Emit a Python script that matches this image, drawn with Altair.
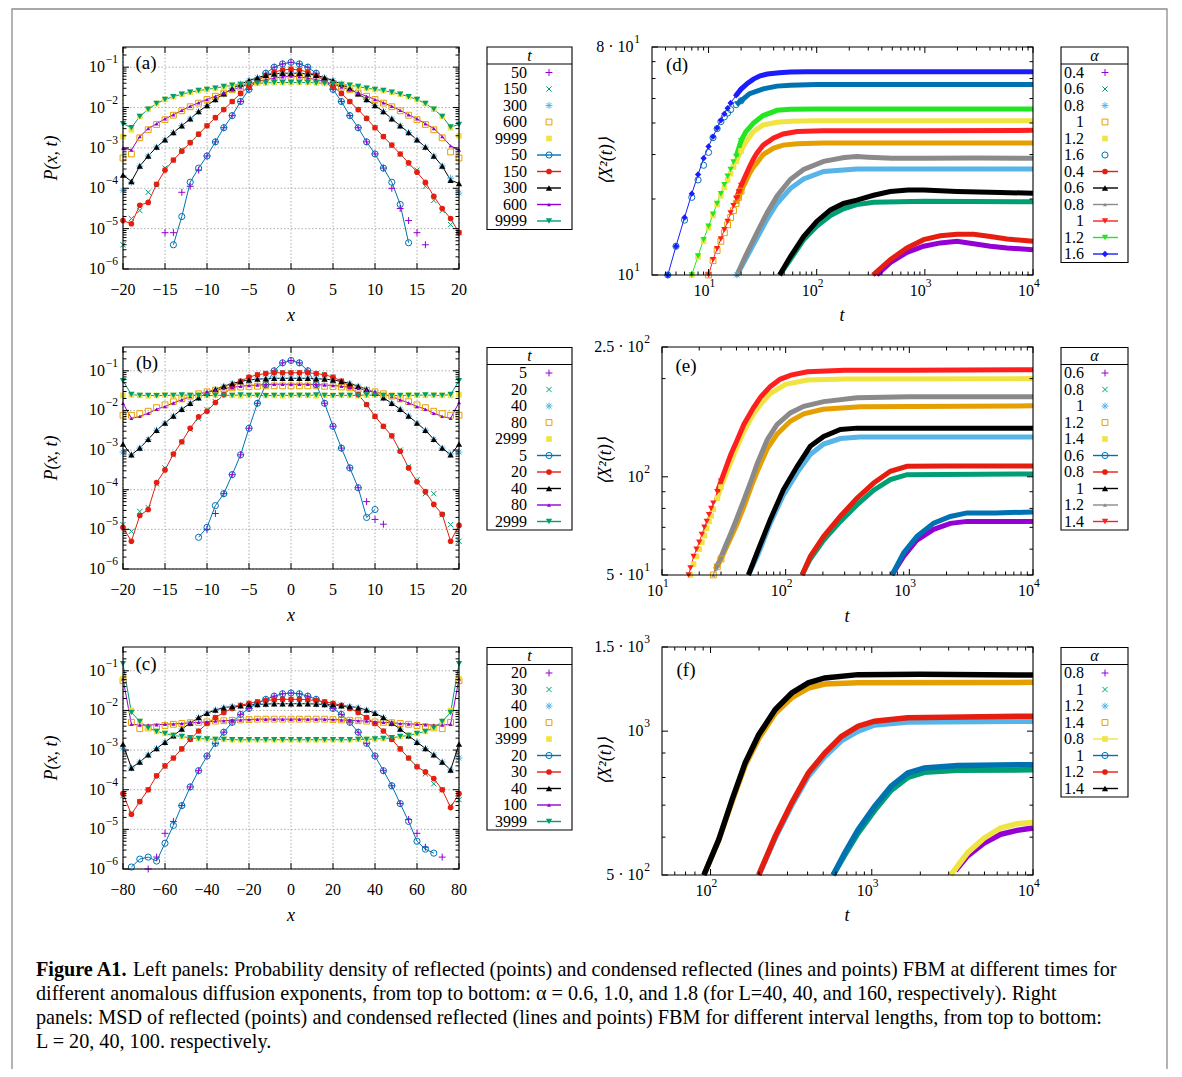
import altair as alt
import pandas as pd

N = None
W, H, M = 1166, 1061, 8
SERIF = "Liberation Serif"

# ---------------------------------------------------------------- colours / markers
PURPLE, GREEN, LBLUE, ORANGE, YELLOW = "#9400d3", "#009e73", "#56b4e9", "#e69f00", "#f0e442"
BLUE, RED, BLACK, GRAY = "#0072b2", "#e51e10", "#000000", "#8a8a8a"
BRED, LIME, DBLUE = "#ff1f1f", "#22e622", "#1c1cff"

PLUS = "M-1,0L1,0M0,-1L0,1"
CROSS = "M-0.8,-0.8L0.8,0.8M-0.8,0.8L0.8,-0.8"
STAR = "M-1,0L1,0M0,-1L0,1M-0.72,-0.72L0.72,0.72M-0.72,0.72L0.72,-0.72"
MK = {
    "+": (PLUS, False, 48), "x": (CROSS, False, 44), "*": (STAR, False, 48),
    "sq": ("square", False, 34), "SQ": ("square", True, 32),
    "o": ("circle", False, 38), "O": ("circle", True, 32),
    "T": ("triangle-up", True, 40), "t": ("triangle-up", True, 16),
    "V": ("triangle-down", True, 40), "D": ("diamond", True, 40),
}

# ---------------------------------------------------------------- panel (a): log10 P(x,t), alpha=0.6, L=40
XA = list(range(-20, 21))
A_P50 = [N,N,N,N,N, -5.1,-5.1,-4.1,-3.95,-3.55, -3.2,-2.85,-2.5,-2.2,-1.85, -1.55,-1.33,-1.15,-1.0,-0.92, -0.88, -0.92,-1.0,-1.15,-1.33,-1.55, -1.85,-2.2,-2.5,-2.85,-3.15, -3.5,-4.0,-4.5,-4.8,-5.1, -5.4,N,N,N,N]
A_C50 = [N,N,N,N,N, N,-5.4,-4.7,-3.85,-3.5, -3.2,-2.85,-2.5,-2.2,-1.85, -1.55,-1.33,-1.15,-1.0,-0.92, -0.88, -0.92,-1.0,-1.15,-1.33,-1.55, -1.85,-2.2,-2.5,-2.85,-3.15, -3.5,-3.85,-4.4,-5.35,N, N,N,N,N,N]
A_P150 = [-5.4,-4.75,-4.55,-4.1,-3.9, -3.5,-3.3,-3.05,-2.87,-2.66, -2.45,-2.25,-2.05,-1.85,-1.65, -1.47,-1.33,-1.21,-1.12,-1.07, -1.05, -1.07,-1.12,-1.21,-1.33,-1.47, -1.65,-1.85,-2.05,-2.27,-2.5, -2.72,-2.93,-3.15,-3.4,-3.55, -3.95,-4.3,-4.55,-4.9,-5.1]
A_C150 = [-4.8,-4.88,-4.42,-4.35,-3.9, -3.55,-3.3,-3.08,-2.87,-2.66, -2.45,-2.25,-2.05,-1.85,-1.65, -1.47,-1.33,-1.21,-1.12,-1.07, -1.05, -1.07,-1.12,-1.21,-1.33,-1.47, -1.65,-1.85,-2.05,-2.27,-2.5, -2.72,-2.93,-3.15,-3.37,-3.6, -3.85,-4.2,-4.5,-4.75,-5.1]
A_P300 = [-4.05,-3.85,-3.45,-3.2,-2.98, -2.8,-2.62,-2.45,-2.28,-2.1, -1.95,-1.8,-1.66,-1.53,-1.42, -1.33,-1.26,-1.2,-1.17,-1.15, -1.15, -1.15,-1.17,-1.2,-1.26,-1.33, -1.42,-1.53,-1.66,-1.8,-1.95, -2.1,-2.28,-2.45,-2.62,-2.8, -2.98,-3.2,-3.45,-3.75,-4.12]
A_C300 = [-3.67,-3.83,-3.45,-3.2,-2.98, -2.8,-2.62,-2.45,-2.28,-2.1, -1.95,-1.8,-1.66,-1.53,-1.42, -1.33,-1.26,-1.2,-1.17,-1.15, -1.15, -1.15,-1.17,-1.2,-1.26,-1.33, -1.42,-1.53,-1.66,-1.8,-1.95, -2.1,-2.28,-2.45,-2.62,-2.8, -2.98,-3.2,-3.45,-3.8,-3.88]
A_P600 = [-3.25,-3.15,-2.75,-2.55,-2.42, -2.3,-2.19,-2.08,-1.98,-1.89, -1.8,-1.72,-1.64,-1.56,-1.49, -1.42,-1.36,-1.31,-1.27,-1.24, -1.23, -1.24,-1.27,-1.31,-1.36,-1.42, -1.49,-1.56,-1.64,-1.72,-1.8, -1.89,-1.98,-2.08,-2.19,-2.3, -2.42,-2.55,-2.75,-3.1,-3.25]
A_C600 = [-3.0,-3.05,-2.72,-2.52,-2.4, -2.28,-2.18,-2.07,-1.97,-1.88, -1.8,-1.72,-1.64,-1.56,-1.49, -1.42,-1.36,-1.31,-1.27,-1.24, -1.22, -1.24,-1.27,-1.31,-1.36,-1.42, -1.49,-1.56,-1.64,-1.72,-1.8, -1.88,-1.97,-2.07,-2.18,-2.28, -2.4,-2.52,-2.72,-2.95,-3.05]
A_P9999 = [-2.72,-2.55,-2.22,-2.04,-1.9, -1.8,-1.73,-1.67,-1.62,-1.58, -1.55,-1.52,-1.48,-1.45,-1.43, -1.41,-1.4,-1.39,-1.38,-1.38, -1.38, -1.38,-1.38,-1.39,-1.4,-1.41, -1.43,-1.45,-1.48,-1.52,-1.55, -1.58,-1.62,-1.67,-1.73,-1.8, -1.9,-2.04,-2.22,-2.5,-2.7]
A_C9999 = [-2.4,-2.5,-2.22,-2.04,-1.9, -1.8,-1.73,-1.67,-1.62,-1.58, -1.55,-1.52,-1.48,-1.45,-1.43, -1.41,-1.4,-1.39,-1.38,-1.38, -1.38, -1.38,-1.38,-1.39,-1.4,-1.41, -1.43,-1.45,-1.48,-1.52,-1.55, -1.58,-1.62,-1.67,-1.73,-1.8, -1.9,-2.04,-2.22,-2.48,-2.42]

# ---------------------------------------------------------------- panel (b): alpha=1.0, L=40
B_P5 = [N,N,N,N,N, N,N,N,N,N, -5.0,-4.6,-4.1,-3.62,-3.12, -2.45,-1.82,-1.35,-1.0,-0.8, -0.74, -0.8,-1.0,-1.35,-1.82,-2.4, -2.95,-3.45,-3.95,-4.3,-4.75, -4.87,N,N,N,N, N,N,N,N,N]
B_C5 = [N,N,N,N,N, N,N,N,N,-5.2, -4.95,-4.4,-4.1,-3.62,-3.12, -2.45,-1.82,-1.35,-1.0,-0.8, -0.74, -0.8,-1.0,-1.35,-1.82,-2.4, -2.95,-3.45,-3.95,-4.7,-4.5, N,N,N,N,N, N,N,N,N,N]
B_P20 = [-4.88,-5.05,-4.55,-4.45,-3.85, -3.45,-3.12,-2.8,-2.48,-2.2, -1.98,-1.78,-1.58,-1.41,-1.27, -1.17,-1.1,-1.07,-1.05,-1.05, -1.05, -1.05,-1.05,-1.07,-1.1,-1.16, -1.26,-1.4,-1.6,-1.85,-2.15, -2.4,-2.64,-3.0,-3.42,-3.75, -4.1,-4.1,-4.63,-4.88,-5.3]
B_C20 = [-4.95,-5.3,-4.65,-4.5,-3.82, -3.5,-3.1,-2.79,-2.45,-2.16, -2.02,-1.8,-1.6,-1.4,-1.26, -1.16,-1.1,-1.07,-1.05,-1.05, -1.05, -1.05,-1.05,-1.07,-1.1,-1.16, -1.26,-1.4,-1.6,-1.85,-2.15, -2.4,-2.64,-3.03,-3.45,-3.8, -4.05,-4.37,-4.62,-5.3,-4.9]
B_P40 = [-3.05,-3.12,-2.95,-2.73,-2.5, -2.32,-2.14,-1.97,-1.82,-1.68, -1.56,-1.47,-1.39,-1.32,-1.27, -1.23,-1.21,-1.2,-1.19,-1.19, -1.19, -1.19,-1.19,-1.2,-1.21,-1.23, -1.27,-1.32,-1.39,-1.47,-1.56, -1.68,-1.82,-1.97,-2.14,-2.32, -2.5,-2.73,-2.95,-3.1,-3.05]
B_C40 = [-2.85,-3.12,-2.95,-2.73,-2.5, -2.32,-2.14,-1.97,-1.82,-1.68, -1.56,-1.47,-1.39,-1.32,-1.27, -1.23,-1.21,-1.2,-1.19,-1.19, -1.19, -1.19,-1.19,-1.2,-1.21,-1.23, -1.27,-1.32,-1.39,-1.47,-1.56, -1.68,-1.82,-1.97,-2.14,-2.32, -2.5,-2.73,-2.95,-3.12,-2.85]
B_P80 = [-2.12,-2.12,-2.08,-2.02,-1.93, -1.86,-1.78,-1.71,-1.64,-1.58, -1.53,-1.49,-1.46,-1.43,-1.41, -1.4,-1.39,-1.38,-1.38,-1.38, -1.38, -1.38,-1.38,-1.38,-1.39,-1.4, -1.41,-1.43,-1.46,-1.49,-1.53, -1.58,-1.64,-1.71,-1.78,-1.86, -1.93,-2.02,-2.08,-2.12,-2.12]
B_C80 = [-1.82,-2.2,-2.15,-2.07,-1.97, -1.9,-1.81,-1.73,-1.65,-1.59, -1.53,-1.49,-1.45,-1.42,-1.39, -1.37,-1.36,-1.35,-1.34,-1.34, -1.34, -1.34,-1.34,-1.35,-1.36,-1.37, -1.39,-1.42,-1.45,-1.49,-1.53, -1.59,-1.65,-1.73,-1.81,-1.9, -1.97,-2.07,-2.15,-2.2,-1.8]
B_P2999 = [-1.62,-1.61,-1.62,-1.63,-1.62, -1.61,-1.62,-1.62,-1.63,-1.61, -1.62,-1.62,-1.61,-1.62,-1.63, -1.62,-1.61,-1.62,-1.62,-1.63, -1.62, -1.61,-1.62,-1.63,-1.62,-1.62, -1.61,-1.62,-1.63,-1.62,-1.61, -1.62,-1.62,-1.63,-1.61,-1.62, -1.62,-1.61,-1.62,-1.62,-1.6]
B_C2999 = [-1.25,-1.6,-1.62,-1.62,-1.63, -1.62,-1.62,-1.61,-1.62,-1.62, -1.63,-1.62,-1.62,-1.62,-1.61, -1.62,-1.62,-1.63,-1.62,-1.62, -1.62, -1.62,-1.62,-1.61,-1.62,-1.63, -1.62,-1.62,-1.62,-1.61,-1.62, -1.62,-1.63,-1.62,-1.62,-1.62, -1.61,-1.62,-1.62,-1.6,-1.25]

# ---------------------------------------------------------------- panel (c): alpha=1.8, L=160
XC = list(range(-80, 81, 4))
C_P20 = [N,N,N,-6.0,-5.7, -5.1,-4.8,-4.4,-3.93,-3.52, -3.15,-2.83,-2.55,-2.3,-2.1, -1.95,-1.82,-1.72,-1.64,-1.58, -1.56, -1.58,-1.64,-1.72,-1.82,-1.95, -2.1,-2.3,-2.55,-2.83,-3.15, -3.52,-3.9,-4.35,-4.75,-5.1, -5.45,N,-5.7,N,N]
C_C20 = [N,-5.95,-5.75,-5.7,-5.8, -5.35,-4.9,-4.4,-3.93,-3.52, -3.15,-2.83,-2.55,-2.3,-2.1, -1.95,-1.82,-1.72,-1.64,-1.58, -1.56, -1.58,-1.64,-1.72,-1.82,-1.95, -2.1,-2.3,-2.55,-2.83,-3.15, -3.52,-3.9,-4.35,-4.8,-5.3, -5.5,-5.6,N,N,N]
C_P30 = [-4.15,-4.6,-4.3,-4.0,-3.65, -3.4,-3.2,-2.97,-2.73,-2.52, -2.33,-2.18,-2.05,-1.95,-1.87, -1.82,-1.78,-1.75,-1.73,-1.72, -1.72, -1.72,-1.73,-1.75,-1.78,-1.82, -1.87,-1.95,-2.05,-2.18,-2.33, -2.52,-2.73,-2.97,-3.2,-3.42, -3.6,-3.85,-4.0,-4.4,-4.25]
C_C30 = [-4.1,-4.62,-4.3,-4.0,-3.65, -3.4,-3.2,-2.97,-2.73,-2.52, -2.33,-2.18,-2.05,-1.95,-1.87, -1.82,-1.78,-1.75,-1.73,-1.72, -1.72, -1.72,-1.73,-1.75,-1.78,-1.82, -1.87,-1.95,-2.05,-2.18,-2.33, -2.52,-2.73,-2.97,-3.2,-3.42, -3.55,-3.72,-4.0,-4.45,-4.1]
C_P40 = [-2.95,-3.45,-3.3,-3.12,-2.96, -2.8,-2.64,-2.47,-2.32,-2.18, -2.07,-1.99,-1.93,-1.9,-1.88, -1.86,-1.85,-1.84,-1.83,-1.83, -1.83, -1.83,-1.83,-1.84,-1.85,-1.86, -1.88,-1.9,-1.93,-1.99,-2.07, -2.18,-2.32,-2.47,-2.64,-2.8, -2.96,-3.12,-3.3,-3.5,-3.2]
C_C40 = [-2.85,-3.45,-3.3,-3.12,-2.96, -2.8,-2.64,-2.47,-2.32,-2.18, -2.07,-1.99,-1.93,-1.9,-1.88, -1.86,-1.85,-1.84,-1.83,-1.83, -1.83, -1.83,-1.83,-1.84,-1.85,-1.86, -1.88,-1.9,-1.93,-1.99,-2.07, -2.18,-2.32,-2.47,-2.64,-2.8, -2.96,-3.12,-3.3,-3.5,-2.85]
C_P100 = [-1.25,-2.3,-2.46,-2.44,-2.41, -2.38,-2.35,-2.33,-2.31,-2.3, -2.29,-2.27,-2.26,-2.25,-2.24, -2.23,-2.22,-2.22,-2.22,-2.22, -2.22, -2.22,-2.22,-2.22,-2.22,-2.23, -2.24,-2.25,-2.26,-2.27,-2.29, -2.3,-2.31,-2.33,-2.35,-2.38, -2.41,-2.44,-2.46,-2.3,-1.25]
C_C100 = [-1.2,-2.35,-2.37,-2.37,-2.36, -2.35,-2.34,-2.33,-2.31,-2.3, -2.29,-2.27,-2.26,-2.25,-2.24, -2.23,-2.22,-2.22,-2.22,-2.22, -2.22, -2.22,-2.22,-2.22,-2.22,-2.23, -2.24,-2.25,-2.26,-2.27,-2.29, -2.3,-2.31,-2.33,-2.34,-2.35, -2.36,-2.37,-2.37,-2.35,-1.2]
C_P3999 = [-1.2,-2.0,-2.28,-2.44,-2.53, -2.58,-2.63,-2.66,-2.69,-2.71, -2.72,-2.73,-2.73,-2.74,-2.74, -2.74,-2.74,-2.74,-2.74,-2.74, -2.74, -2.74,-2.74,-2.74,-2.74,-2.74, -2.74,-2.74,-2.73,-2.73,-2.72, -2.71,-2.69,-2.66,-2.63,-2.58, -2.53,-2.44,-2.28,-2.0,-1.2]
C_C3999 = [-0.82,-2.05,-2.28,-2.44,-2.53, -2.58,-2.63,-2.66,-2.69,-2.71, -2.72,-2.73,-2.73,-2.74,-2.74, -2.74,-2.74,-2.74,-2.74,-2.74, -2.74, -2.74,-2.74,-2.74,-2.74,-2.74, -2.74,-2.74,-2.73,-2.73,-2.72, -2.71,-2.69,-2.66,-2.63,-2.58, -2.53,-2.44,-2.28,-2.05,-0.82]

# ---------------------------------------------------------------- panel (d): MSD, L=20
D_T_P04 = [360, 479, 683, 975, 1391, 1983, 2827, 4036, 5754, 10000]
D_Y_P04 = [10, 11.2, 12.3, 13, 13.4, 13.6, 13.3, 13, 12.8, 12.6]
D_T_P06 = [45.4, 57, 75.7, 100, 134, 177, 235, 336, 1000, 10000]
D_Y_P06 = [10, 11.5, 13.8, 15.6, 17.2, 18.3, 19, 19.4, 19.6, 19.5]
D_T_P08 = [18.3, 22.6, 28, 34.7, 42.9, 57, 75.7, 116, 235, 1000, 10000]
D_Y_P08 = [10, 11.8, 14, 16.6, 19.2, 22, 24, 25.7, 26.3, 26.3, 26.3]
D_T_P10 = [10, 11, 12, 13, 14, 15, 16, 17, 18, 19, 20, 21, 22, 24, 26, 28, 32, 40, 49, 66, 116, 1000, 10000]
D_Y_P10 = [10, 11.4, 12.5, 13.6, 14.7, 15.8, 16.9, 18, 19.2, 20.3, 21.5, 22.5, 23.4, 25.3, 26.8, 27.8, 30, 31.8, 32.7, 33.1, 33.3, 33.3, 33.3]
D_T_P12 = [7, 8, 9, 10, 11, 12, 13, 14, 15, 16, 17, 18, 20, 22, 26, 32, 43, 57, 100, 10000]
D_Y_P12 = [10, 11.8, 13.6, 15.4, 17.2, 19, 20.6, 22.2, 23.8, 25.2, 26.8, 28.2, 31, 33.5, 37, 39.3, 40.3, 40.6, 40.8, 40.8]
D_T_P16 = [4.2, 5, 6, 7, 8, 9, 10, 11, 12, 13, 14, 15, 16, 18, 20, 24, 32, 43, 57, 100, 300, 1000, 3000, 10000]
D_Y_P16 = [10, 13, 16.5, 20.3, 23.8, 27.2, 30.6, 35, 38, 40.5, 42.3, 43.8, 45.2, 47.3, 49, 52.3, 54.6, 56, 56.5, 56.8, 56.8, 56.8, 56.8, 56.8]
D_T_C04 = [331, 479, 683, 975, 1391, 1983, 2827, 4036, 5754, 10000]
D_Y_C04 = [10, 11.5, 12.8, 13.8, 14.3, 14.5, 14.5, 14.2, 13.9, 13.6]
D_T_C06 = [45.4, 57, 75.7, 100, 134, 177, 235, 336, 479, 700, 975, 1983, 5000, 10000]
D_Y_C06 = [10, 11.8, 14.2, 16.3, 18.1, 19.2, 19.8, 20.7, 21.4, 21.7, 21.7, 21.4, 21.2, 21.1]
D_T_C08 = [18.3, 22.6, 28, 34.7, 42.9, 57, 75.7, 116, 180, 235, 300, 500, 1000, 3000, 10000]
D_Y_C08 = [10, 12.2, 14.7, 17.6, 20.5, 23.9, 26.2, 28.2, 29.2, 29.5, 29.3, 29.0, 29.0, 29.1, 29.0]
D_T_C10 = [10, 11, 12, 13, 14, 15, 16, 17, 18, 19, 20, 21, 22, 24, 26, 28, 32, 40, 49, 66, 116, 1000, 10000]
D_Y_C10 = [10, 11.5, 12.7, 13.9, 15.1, 16.3, 17.6, 18.8, 20.1, 21.3, 22.6, 23.7, 24.8, 26.9, 28.8, 30.4, 32.7, 34.9, 36.2, 37, 37.3, 37.3, 37.4]
D_T_C12 = [7, 8, 9, 10, 11, 12, 13, 14, 15, 16, 17, 18, 20, 22, 26, 32, 43, 57, 100, 1000, 10000]
D_Y_C12 = [10, 11.9, 13.8, 15.6, 17.4, 19.2, 21, 22.8, 24.6, 26.2, 28, 29.5, 34, 36.8, 40, 42.8, 44.9, 45.3, 45.4, 45.4, 45.4]
D_T_C16 = [4.2, 5, 6, 7, 8, 9, 10, 11, 12, 13, 14, 15, 16, 18, 20, 23, 26, 30, 35, 45, 57, 80, 150, 400, 1000, 3000, 10000]
D_Y_C16 = [10, 13, 16.9, 21, 25, 29, 32.3, 35.3, 38.2, 41, 43.5, 45.8, 48, 51.5, 54.5, 57.5, 59.7, 61.5, 62.5, 63.3, 63.7, 63.9, 63.9, 63.8, 63.8, 63.8, 63.8]

# ---------------------------------------------------------------- panel (e): MSD, L=40
E_T_P06 = [724, 899, 1153, 1573, 2146, 2926, 10000]
E_Y_P06 = [50, 57, 64, 69, 72, 73, 73]
E_T_P08 = [135.6, 158, 203, 277, 377, 515, 702, 957, 10000]
E_Y_P08 = [50, 56, 64, 73, 82, 91, 98, 101.5, 102]
E_T_P10 = [50, 60, 75, 96, 124, 158, 203, 277, 400, 10000]
E_Y_P10 = [50, 58, 72, 88, 103, 117, 126, 131, 132.5, 132.5]
E_T_P12 = [26, 28, 30, 32, 34, 36, 40, 46, 53, 59, 71, 85, 109, 140, 200, 400, 10000]
E_Y_P12 = [50, 53, 56, 59, 62, 65, 71, 81, 94, 104, 122, 135, 148, 156, 161, 164, 165]
E_T_P14 = [17, 18, 19, 20, 21, 22, 23, 24, 25, 26, 28, 30, 33, 36, 40, 46, 55, 63, 75, 100, 150, 300, 10000]
E_Y_P14 = [50, 54, 57, 60, 63, 66, 69.5, 73, 76, 79.5, 86, 93, 102, 111, 122, 138, 156, 167, 180, 192, 198, 199.5, 200]
E_T_C06 = [724, 899, 1153, 1573, 2146, 2926, 5000, 10000]
E_Y_C06 = [50, 58.4, 65.7, 72.1, 75.6, 77.5, 77.5, 78]
E_T_C08 = [135.6, 158, 203, 277, 377, 515, 702, 957, 2000, 10000]
E_Y_C08 = [50, 57, 65.7, 75.7, 86, 95.7, 104, 107.7, 108, 108]
E_T_C10 = [50, 58.6, 75, 96, 124, 158, 203, 277, 377, 1000, 10000]
E_Y_C10 = [50, 58.4, 73.9, 91.4, 107.7, 124, 133, 139.6, 141, 141, 141]
E_T_C12 = [26, 27, 29, 31, 33, 36, 40, 46, 53, 59, 71, 85, 109, 140, 203, 377, 1000, 10000]
E_Y_C12 = [50, 52, 55, 58.5, 62, 67, 74, 85, 98, 110, 130, 144.5, 157, 164.5, 170, 174.6, 176, 176]
E_T_C14 = [16.4, 17, 18, 19, 20, 21, 22, 23, 24, 25, 26, 28, 30, 33, 36, 40, 46, 55, 63, 75, 90, 110, 150, 300, 1000, 10000]
E_Y_C14 = [50, 52.5, 57, 60, 63, 66.5, 70, 73, 76.5, 80, 83, 90, 97, 107, 117, 128, 145, 163, 176, 189, 199, 205, 210, 212, 212, 213]

# ---------------------------------------------------------------- panel (f): MSD, L=100
F_T_P08 = [3300, 3919, 4966, 6292, 7962, 10000]
F_Y_P08 = [510, 548, 583, 608, 620, 627]
F_T_P10 = [576, 679, 822, 1040, 1318, 1671, 2118, 3400, 10000]
F_Y_P10 = [500, 550, 612, 682, 752, 800, 820, 828, 830]
F_T_P12 = [199, 252, 319, 404, 511, 648, 822, 1040, 1671, 10000]
F_Y_P12 = [500, 598, 700, 805, 885, 955, 1000, 1030, 1045, 1049]
F_T_P14 = [91, 112, 136, 164, 199, 252, 319, 404, 511, 822, 10000]
F_Y_P14 = [500, 590, 712, 848, 965, 1090, 1175, 1230, 1255, 1262, 1265]
F_T_C08 = [3090, 3919, 4966, 6292, 7962, 10000]
F_Y_C08 = [500, 556, 597, 627, 640, 644]
F_T_C10 = [576, 679, 822, 1040, 1318, 1671, 2118, 3400, 10000]
F_Y_C10 = [500, 556, 622, 696, 767, 817, 837, 847, 851]
F_T_C12 = [199, 252, 319, 404, 511, 648, 822, 1040, 1671, 10000]
F_Y_C12 = [500, 603, 708, 817, 900, 975, 1024, 1049, 1067, 1075]
F_T_C14 = [91, 112.5, 136, 164, 199, 252, 319, 404, 511, 822, 2000, 10000]
F_Y_C14 = [500, 593, 719, 858, 983, 1110, 1202, 1262, 1292, 1313, 1315, 1310]

# ---------------------------------------------------------------- layout (page pixels)
BOX = {  # x0, x1, top, bottom of each plot frame
    "a": (123, 459, 47, 269), "b": (123, 459, 347, 569), "c": (123, 459, 647, 869),
    "d": (652, 1033, 47, 275), "e": (662, 1033, 347, 575), "f": (662, 1033, 647, 875),
}
TICK_FS, EXP_FS = 16, 11.5


def pg(v):
    return v - M


def panel(key, series, xdom, ydom, xlog, xmaj, xmin_, ymaj, ymin_, xlabels, ylabels,
          grid=False, thr=None, band_w=0, logv=True, xlab_dy=21, ygap=5, expw=13):
    x0p, x1p, ytp, ybp = BOX[key]
    xs = alt.Scale(type="log" if xlog else "linear", domain=list(xdom),
                   range=[pg(x0p), pg(x1p)], nice=False, zero=False)
    ys = alt.Scale(type="log", domain=list(ydom), range=[pg(ybp), pg(ytp)], nice=False)

    def X(f):
        return alt.X(f + ":Q", scale=xs, axis=None)

    def Y(f):
        return alt.Y(f + ":Q", scale=ys, axis=None)

    rows = []
    for i, (name, xv, yv, color, mk, cond) in enumerate(series):
        assert len(xv) == len(yv), (key, name)
        shape, filled, size = MK[mk]
        for x, v in zip(xv, yv):
            if v is None:
                continue
            y = 10 ** v if logv else v
            mark = True if thr is None else x <= thr
            band = False if thr is None else x >= 0.9 * thr
            rows.append(dict(x=x, y=y, s=f"{i:02d}_{name}", color=color, shape=shape,
                             size=size, filled=filled, cond=cond, mark=mark, band=band))
    df = pd.DataFrame(rows)
    layers = []
    if grid:
        gx = pd.DataFrame({"v": xmaj, "ya": ydom[0], "yb": ydom[1]})
        gy = pd.DataFrame({"v": ymaj, "xa": xdom[0], "xb": xdom[1]})
        layers.append(alt.Chart(gx).mark_rule(color="#9a9a9a", strokeDash=[1.5, 2], strokeWidth=0.8)
                      .encode(x=X("v"), y=Y("ya"), y2=alt.Y2("yb")))
        layers.append(alt.Chart(gy).mark_rule(color="#9a9a9a", strokeDash=[1.5, 2], strokeWidth=0.8)
                      .encode(y=Y("v"), x=X("xa"), x2=alt.X2("xb")))
    enc = dict(x=X("x"), y=Y("y"))
    if band_w:
        layers.append(alt.Chart(df).transform_filter("datum.band").mark_line(strokeWidth=band_w)
                      .encode(**enc, color=alt.Color("color:N", scale=None), detail="s:N",
                              order=alt.Order("x:Q")))
    layers.append(alt.Chart(df).transform_filter("datum.cond").mark_line(strokeWidth=1)
                  .encode(**enc, color=alt.Color("color:N", scale=None), detail="s:N",
                          order=alt.Order("x:Q")))
    pt = dict(shape=alt.Shape("shape:N", scale=None), color=alt.Color("color:N", scale=None),
              size=alt.Size("size:Q", scale=None))
    layers.append(alt.Chart(df).transform_filter("datum.mark && !datum.filled")
                  .mark_point(filled=False, strokeWidth=1, opacity=1).encode(**enc, **pt))
    layers.append(alt.Chart(df).transform_filter("datum.mark && datum.filled")
                  .mark_point(filled=True, opacity=1).encode(**enc, **pt))
    # frame
    fr = pd.DataFrame([dict(xa=xdom[0], xb=xdom[1], ya=ydom[0], yb=ydom[1])])
    layers.append(alt.Chart(fr).mark_rect(fillOpacity=0, stroke="black", strokeWidth=1.1)
                  .encode(x=X("xa"), x2=alt.X2("xb"), y=Y("ya"), y2=alt.Y2("yb")))
    # ticks (inward, mirrored)
    yt = pd.DataFrame([dict(v=v, maj=True) for v in ymaj] + [dict(v=v, maj=False) for v in ymin_])
    yt["xa"] = xdom[0]
    yt["xb"] = xdom[1]
    xt = pd.DataFrame([dict(v=v, maj=True) for v in xmaj] + [dict(v=v, maj=False) for v in xmin_])
    xt["ya"] = ydom[0]
    xt["yb"] = ydom[1]
    for maj, L in ((True, 6), (False, 3.5)):
        f = "datum.maj" if maj else "!datum.maj"
        layers.append(alt.Chart(yt).transform_filter(f).mark_rule(x2Offset=L, color="black")
                      .encode(y=Y("v"), x=X("xa"), x2=alt.X2("xa")))
        layers.append(alt.Chart(yt).transform_filter(f).mark_rule(x2Offset=-L, color="black")
                      .encode(y=Y("v"), x=X("xb"), x2=alt.X2("xb")))
        layers.append(alt.Chart(xt).transform_filter(f).mark_rule(y2Offset=-L, color="black")
                      .encode(x=X("v"), y=Y("ya"), y2=alt.Y2("ya")))
        layers.append(alt.Chart(xt).transform_filter(f).mark_rule(y2Offset=L, color="black")
                      .encode(x=X("v"), y=Y("yb"), y2=alt.Y2("yb")))
    # tick labels
    xl = pd.DataFrame(xlabels, columns=["v", "base", "exp"])
    xl["ya"] = ydom[0]
    yl = pd.DataFrame(ylabels, columns=["v", "base", "exp"])
    yl["xa"] = xdom[0]
    txt = dict(font=SERIF, fontSize=TICK_FS, color="black")
    if xlog:
        layers.append(alt.Chart(xl).mark_text(align="right", baseline="middle", dx=1, dy=xlab_dy, **txt)
                      .encode(x=X("v"), y=Y("ya"), text="base:N"))
        layers.append(alt.Chart(xl).mark_text(align="left", baseline="middle", dx=1, dy=xlab_dy - 7,
                                              font=SERIF, fontSize=EXP_FS)
                      .encode(x=X("v"), y=Y("ya"), text="exp:N"))
    else:
        layers.append(alt.Chart(xl).mark_text(align="center", baseline="middle", dy=xlab_dy, **txt)
                      .encode(x=X("v"), y=Y("ya"), text="base:N"))
    layers.append(alt.Chart(yl).mark_text(align="right", baseline="middle", dx=-(ygap + expw), **txt)
                  .encode(x=X("xa"), y=Y("v"), text="base:N"))
    layers.append(alt.Chart(yl).mark_text(align="right", baseline="middle", dx=-ygap, dy=-7,
                                          font=SERIF, fontSize=EXP_FS)
                  .encode(x=X("xa"), y=Y("v"), text="exp:N"))
    return alt.layer(*layers)


def decades_minor(lo, hi, exps):
    out = []
    for e in exps:
        for k in range(2, 10):
            v = k * 10.0 ** e
            if lo < v < hi:
                out.append(v)
    return out


MINUS = "\u2212"
LEFT_YLAB = [(10.0 ** e, "10", MINUS + str(-e)) for e in range(-6, 0)]
LEFT_YMAJ = [10.0 ** e for e in range(-6, 0)]


def lin_labels(vals):
    return [(v, (MINUS + str(-v)) if v < 0 else str(v), "") for v in vals]


def left_series(xg, pts, conds):
    c1 = [PURPLE, GREEN, LBLUE, ORANGE, YELLOW]
    m1 = ["+", "x", "*", "sq", "SQ"]
    c2 = [BLUE, RED, BLACK, PURPLE, GREEN]
    m2 = ["o", "O", "T", "t", "V"]
    s = []
    for i, (n, v) in enumerate(pts):
        assert len(v) == len(xg), n
        s.append(("p" + n, xg, v, c1[i], m1[i], False))
    for i, (n, v) in enumerate(conds):
        assert len(v) == len(xg), n
        s.append(("c" + n, xg, v, c2[i], m2[i], True))
    return s


YA = (1e-6, 10 ** -0.5)
YB = (1e-6, 10 ** -0.4)

pa = panel("a", left_series(XA, [("50", A_P50), ("150", A_P150), ("300", A_P300), ("600", A_P600), ("9999", A_P9999)],
                            [("50", A_C50), ("150", A_C150), ("300", A_C300), ("600", A_C600), ("9999", A_C9999)]),
           (-20, 20), YA, False, list(range(-20, 21, 5)), [], LEFT_YMAJ, decades_minor(*YA, range(-6, 0)),
           lin_labels(range(-20, 21, 5)), LEFT_YLAB, grid=True)
pb = panel("b", left_series(XA, [("5", B_P5), ("20", B_P20), ("40", B_P40), ("80", B_P80), ("2999", B_P2999)],
                            [("5", B_C5), ("20", B_C20), ("40", B_C40), ("80", B_C80), ("2999", B_C2999)]),
           (-20, 20), YB, False, list(range(-20, 21, 5)), [], LEFT_YMAJ, decades_minor(*YB, range(-6, 0)),
           lin_labels(range(-20, 21, 5)), LEFT_YLAB, grid=True)
pc = panel("c", left_series(XC, [("20", C_P20), ("30", C_P30), ("40", C_P40), ("100", C_P100), ("3999", C_P3999)],
                            [("20", C_C20), ("30", C_C30), ("40", C_C40), ("100", C_C100), ("3999", C_C3999)]),
           (-80, 80), YB, False, list(range(-80, 81, 20)), [], LEFT_YMAJ, decades_minor(*YB, range(-6, 0)),
           lin_labels(range(-80, 81, 20)), LEFT_YLAB, grid=True)

XLOG_LAB = [(10, "10", "1"), (100, "10", "2"), (1000, "10", "3"), (10000, "10", "4")]

pd_ = panel("d", [
    ("p04", D_T_P04, D_Y_P04, PURPLE, "+", False), ("p06", D_T_P06, D_Y_P06, GREEN, "x", False),
    ("p08", D_T_P08, D_Y_P08, LBLUE, "*", False), ("p10", D_T_P10, D_Y_P10, ORANGE, "sq", False),
    ("p12", D_T_P12, D_Y_P12, YELLOW, "SQ", False), ("p16", D_T_P16, D_Y_P16, BLUE, "o", False),
    ("c04", D_T_C04, D_Y_C04, RED, "O", True), ("c06", D_T_C06, D_Y_C06, BLACK, "T", True),
    ("c08", D_T_C08, D_Y_C08, GRAY, "t", True), ("c10", D_T_C10, D_Y_C10, BRED, "V", True),
    ("c12", D_T_C12, D_Y_C12, LIME, "V", True), ("c16", D_T_C16, D_Y_C16, DBLUE, "D", True)],
    (3, 10000), (10, 80), True, [10, 100, 1000, 10000], decades_minor(3, 10000, range(0, 4)),
    [10, 80], [20, 30, 40, 50, 60, 70], XLOG_LAB, [(10, "10", "1"), (80, "8 \u00b7 10", "1")],
    thr=20, band_w=5, logv=False, xlab_dy=16, ygap=12, expw=6.5)

pe = panel("e", [
    ("p06", E_T_P06, E_Y_P06, PURPLE, "+", False), ("p08", E_T_P08, E_Y_P08, GREEN, "x", False),
    ("p10", E_T_P10, E_Y_P10, LBLUE, "*", False), ("p12", E_T_P12, E_Y_P12, ORANGE, "sq", False),
    ("p14", E_T_P14, E_Y_P14, YELLOW, "SQ", False),
    ("c06", E_T_C06, E_Y_C06, BLUE, "o", True), ("c08", E_T_C08, E_Y_C08, RED, "O", True),
    ("c10", E_T_C10, E_Y_C10, BLACK, "T", True), ("c12", E_T_C12, E_Y_C12, GRAY, "t", True),
    ("c14", E_T_C14, E_Y_C14, BRED, "V", True)],
    (10, 10000), (50, 250), True, [10, 100, 1000, 10000], decades_minor(10, 10000, range(1, 4)),
    [50, 100, 250], [60, 70, 80, 90, 200], XLOG_LAB,
    [(50, "5 \u00b7 10", "1"), (100, "10", "2"), (250, "2.5 \u00b7 10", "2")],
    thr=30, band_w=5, logv=False, xlab_dy=16, ygap=12, expw=6.5)

pf = panel("f", [
    ("p08", F_T_P08, F_Y_P08, PURPLE, "+", False), ("p10", F_T_P10, F_Y_P10, GREEN, "x", False),
    ("p12", F_T_P12, F_Y_P12, LBLUE, "*", False), ("p14", F_T_P14, F_Y_P14, ORANGE, "sq", False),
    ("c08", F_T_C08, F_Y_C08, YELLOW, "SQ", True), ("c10", F_T_C10, F_Y_C10, BLUE, "o", True),
    ("c12", F_T_C12, F_Y_C12, RED, "O", True), ("c14", F_T_C14, F_Y_C14, BLACK, "T", True)],
    (50, 10000), (500, 1500), True, [100, 1000, 10000], decades_minor(50, 10000, range(1, 4)),
    [500, 1000, 1500], [600, 700, 800, 900], XLOG_LAB[1:],
    [(500, "5 \u00b7 10", "2"), (1000, "10", "3"), (1500, "1.5 \u00b7 10", "3")],
    thr=0, band_w=5.5, logv=False, xlab_dy=16, ygap=12, expw=6.5)

# ---------------------------------------------------------------- legends
LEFT_ROWS_C1 = [(PURPLE, "+", False), (GREEN, "x", False), (LBLUE, "*", False), (ORANGE, "sq", False),
                (YELLOW, "SQ", False), (BLUE, "o", True), (RED, "O", True), (BLACK, "T", True),
                (PURPLE, "t", True), (GREEN, "V", True)]
LEG_A_LAB = ["50", "150", "300", "600", "9999", "50", "150", "300", "600", "9999"]
LEG_B_LAB = ["5", "20", "40", "80", "2999", "5", "20", "40", "80", "2999"]
LEG_C_LAB = ["20", "30", "40", "100", "3999", "20", "30", "40", "100", "3999"]
LEG_D_LAB = ["0.4", "0.6", "0.8", "1", "1.2", "1.6", "0.4", "0.6", "0.8", "1", "1.2", "1.6"]
LEG_D_STY = [(PURPLE, "+", False), (GREEN, "x", False), (LBLUE, "*", False), (ORANGE, "sq", False),
             (YELLOW, "SQ", False), (BLUE, "o", False), (RED, "O", True), (BLACK, "T", True),
             (GRAY, "t", True), (BRED, "V", True), (LIME, "V", True), (DBLUE, "D", True)]
LEG_E_LAB = ["0.6", "0.8", "1", "1.2", "1.4", "0.6", "0.8", "1", "1.2", "1.4"]
LEG_E_STY = [(PURPLE, "+", False), (GREEN, "x", False), (LBLUE, "*", False), (ORANGE, "sq", False),
             (YELLOW, "SQ", False), (BLUE, "o", True), (RED, "O", True), (BLACK, "T", True),
             (GRAY, "t", True), (BRED, "V", True)]
LEG_F_LAB = ["0.8", "1", "1.2", "1.4", "0.8", "1", "1.2", "1.4"]
LEG_F_STY = [(PURPLE, "+", False), (GREEN, "x", False), (LBLUE, "*", False), (ORANGE, "sq", False),
             (YELLOW, "SQ", True), (BLUE, "o", True), (RED, "O", True), (BLACK, "T", True)]

LEFT_GEOM = dict(x0=487, x1=572, lx=527, sx=549, la=537, lb=561)
RIGHT_GEOM = dict(x0=1061, x1=1128, lx=1084, sx=1105, la=1093, lb=1118)
LEGENDS = [
    (LEFT_GEOM, 47, "t", LEG_A_LAB, LEFT_ROWS_C1), (LEFT_GEOM, 347.5, "t", LEG_B_LAB, LEFT_ROWS_C1),
    (LEFT_GEOM, 647.5, "t", LEG_C_LAB, LEFT_ROWS_C1), (RIGHT_GEOM, 47, "\u03b1", LEG_D_LAB, LEG_D_STY),
    (RIGHT_GEOM, 347.5, "\u03b1", LEG_E_LAB, LEG_E_STY), (RIGHT_GEOM, 647.5, "\u03b1", LEG_F_LAB, LEG_F_STY),
]

boxes, seps, heads, lrows, llines = [], [], [], [], []
for g, top, head, labs, sty in LEGENDS:
    n = len(labs)
    bottom = top + 25.5 + 16.5 * (n - 1) + 8.5
    boxes.append(dict(xa=pg(g["x0"]), xb=pg(g["x1"]), ya=pg(top), yb=pg(bottom)))
    seps.append(dict(xa=pg(g["x0"]), xb=pg(g["x1"]), y=pg(top + 17)))
    heads.append(dict(x=pg((g["x0"] + g["x1"]) / 2), y=pg(top + 8.5), text=head))
    for i, (lab, (color, mk, line)) in enumerate(zip(labs, sty)):
        y = pg(top + 25.5 + 16.5 * i)
        shape, filled, size = MK[mk]
        lrows.append(dict(lx=pg(g["lx"]), sx=pg(g["sx"]), y=y, text=lab, color=color,
                          shape=shape, size=size, filled=filled))
        if line:
            llines.append(dict(xa=pg(g["la"]), xb=pg(g["lb"]), y=y, color=color))

# panel tags, axis titles, caption
TAGS = [("(a)", 146, 63), ("(b)", 147, 363), ("(c)", 146, 664), ("(d)", 677, 65), ("(e)", 686, 366), ("(f)", 686, 670)]
XTITLES = [("x", 291, 316), ("x", 291, 616), ("x", 291, 916), ("t", 842, 316), ("t", 847, 617), ("t", 847, 916)]
YTITLES = [("P(x, t)", 52, 158), ("P(x, t)", 52, 458), ("P(x, t)", 52, 758),
           ("\u27e8X\u00b2(t)\u27e9", 607, 161), ("\u27e8X\u00b2(t)\u27e9", 606, 461), ("\u27e8X\u00b2(t)\u27e9", 606, 761)]
CAP_FS = 20.2
CAP_BOLD = [("Figure A1.", 36, 970)]
CAP_REG = [
    ("Left panels: Probability density of reflected (points) and condensed reflected (lines and points) FBM at different times for", 133, 970),
    ("different anomalous diffusion exponents, from top to bottom: \u03b1 = 0.6, 1.0, and 1.8 (for L=40, 40, and 160, respectively). Right", 36, 994),
    ("panels: MSD of reflected (points) and condensed reflected (lines and points) FBM for different interval lengths, from top to bottom:", 36, 1018),
    ("L = 20, 40, 100. respectively.", 36, 1042),
]

PX = alt.Scale(domain=[0, W], range=[0, W], nice=False, zero=False)
PY = alt.Scale(domain=[0, H], range=[0, H], nice=False, zero=False)


def PXf(f):
    return alt.X(f + ":Q", scale=PX, axis=None)


def PYf(f):
    return alt.Y(f + ":Q", scale=PY, axis=None)


def tdf(items):
    return pd.DataFrame([dict(text=t, x=pg(x), y=pg(y)) for t, x, y in items])


page_layers = [
    alt.Chart(pd.DataFrame([dict(xa=pg(12), xb=pg(1167), ya=pg(9), yb=pg(1072))]))
    .mark_rect(fillOpacity=0, stroke="#8c8c8c", strokeWidth=1.3)
    .encode(x=PXf("xa"), x2=alt.X2("xb"), y=PYf("ya"), y2=alt.Y2("yb")),
    alt.Chart(pd.DataFrame(boxes)).mark_rect(fillOpacity=0, stroke="black", strokeWidth=1.1)
    .encode(x=PXf("xa"), x2=alt.X2("xb"), y=PYf("ya"), y2=alt.Y2("yb")),
    alt.Chart(pd.DataFrame(seps)).mark_rule(color="black", strokeWidth=1)
    .encode(x=PXf("xa"), x2=alt.X2("xb"), y=PYf("y")),
    alt.Chart(pd.DataFrame(heads)).mark_text(font=SERIF, fontSize=16, fontStyle="italic", baseline="middle")
    .encode(x=PXf("x"), y=PYf("y"), text="text:N"),
    alt.Chart(pd.DataFrame(llines)).mark_rule(strokeWidth=1.4)
    .encode(x=PXf("xa"), x2=alt.X2("xb"), y=PYf("y"), color=alt.Color("color:N", scale=None)),
    alt.Chart(pd.DataFrame(lrows)).mark_text(font=SERIF, fontSize=16, align="right", baseline="middle")
    .encode(x=PXf("lx"), y=PYf("y"), text="text:N"),
    alt.Chart(pd.DataFrame(lrows)).transform_filter("!datum.filled")
    .mark_point(filled=False, strokeWidth=1, opacity=1)
    .encode(x=PXf("sx"), y=PYf("y"), shape=alt.Shape("shape:N", scale=None),
            color=alt.Color("color:N", scale=None), size=alt.Size("size:Q", scale=None)),
    alt.Chart(pd.DataFrame(lrows)).transform_filter("datum.filled")
    .mark_point(filled=True, opacity=1)
    .encode(x=PXf("sx"), y=PYf("y"), shape=alt.Shape("shape:N", scale=None),
            color=alt.Color("color:N", scale=None), size=alt.Size("size:Q", scale=None)),
    alt.Chart(tdf(TAGS)).mark_text(font=SERIF, fontSize=19, baseline="middle")
    .encode(x=PXf("x"), y=PYf("y"), text="text:N"),
    alt.Chart(tdf(XTITLES)).mark_text(font=SERIF, fontSize=18, fontStyle="italic", baseline="middle")
    .encode(x=PXf("x"), y=PYf("y"), text="text:N"),
    alt.Chart(tdf(YTITLES)).mark_text(font=SERIF, fontSize=18, fontStyle="italic", baseline="middle", angle=270)
    .encode(x=PXf("x"), y=PYf("y"), text="text:N"),
    alt.Chart(tdf(CAP_BOLD)).mark_text(font=SERIF, fontSize=CAP_FS, fontWeight="bold", align="left", baseline="middle")
    .encode(x=PXf("x"), y=PYf("y"), text="text:N"),
    alt.Chart(tdf(CAP_REG)).mark_text(font=SERIF, fontSize=CAP_FS, align="left", baseline="middle")
    .encode(x=PXf("x"), y=PYf("y"), text="text:N"),
]
page = alt.layer(*page_layers)

chart = (
    alt.layer(pa, pb, pc, pd_, pe, pf, page)
    .resolve_scale(x="independent", y="independent")
    .properties(width=W, height=H, padding=0, autosize=alt.AutoSizeParams(type="none"))
    .configure_view(stroke=None)
)
chart.save("out.html", embed_options={"renderer": "svg", "actions": False})
